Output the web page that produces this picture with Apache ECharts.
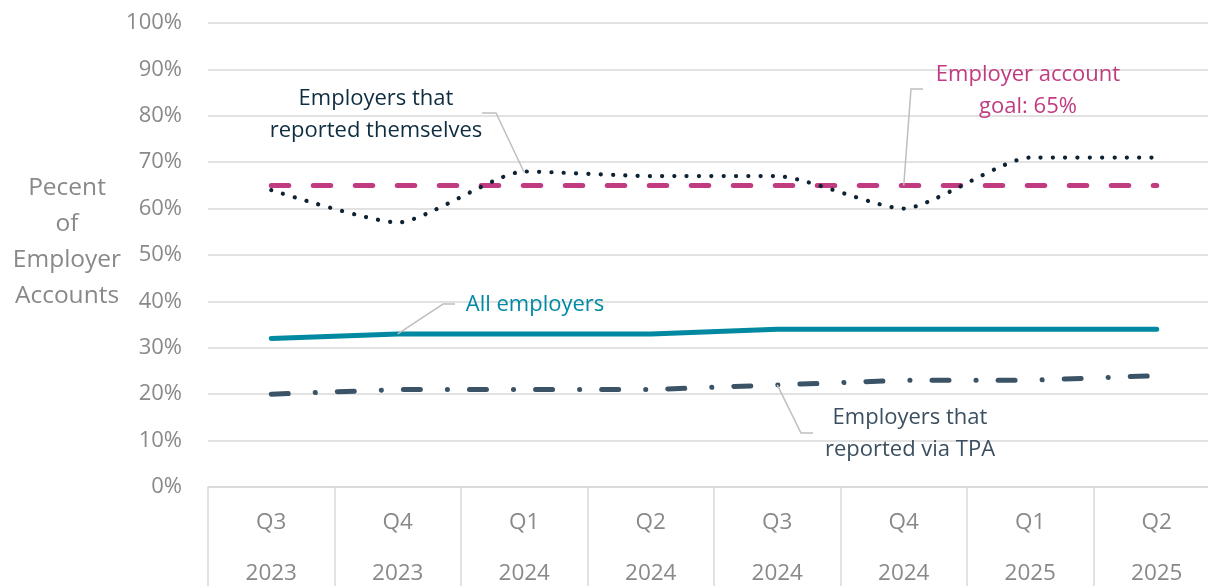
<!DOCTYPE html>
<html>
<head>
<meta charset="utf-8">
<script src="https://cdn.jsdelivr.net/npm/echarts@6/dist/echarts.min.js"></script>
<style>
html,body{margin:0;padding:0;background:#fff;}
#chart{width:1208px;height:586px;}
</style>
</head>
<body>
<div id="chart"></div>
<script>
const categories = ['Q3\n2023','Q4\n2023','Q1\n2024','Q2\n2024','Q3\n2024','Q4\n2024','Q1\n2025','Q2\n2025'];
const selfReported = [64, 57, 68, 67, 67, 60, 71, 71];
const goal = [65, 65, 65, 65, 65, 65, 65, 65];
const allEmployers = [32, 33, 33, 33, 34, 34, 34, 34];
const viaTPA = [20, 21, 21, 21, 22, 23, 23, 24];
const yTicks = [0, 10, 20, 30, 40, 50, 60, 70, 80, 90, 100];

const FONT = '"Open Sans", "Noto Sans", sans-serif';
const GREY = '#898989';
const GRIDC = '#d9d9d9';
const LEAD = '#bfbfbf';

const chart = echarts.init(document.getElementById('chart'), null, {renderer: 'canvas'});

const option = {
  animation: false,
  backgroundColor: '#ffffff',
  textStyle: {fontFamily: FONT},
  grid: {left: 208, right: -12, top: 23, bottom: 99, containLabel: false, outerBoundsMode: 'none'},
  xAxis: {
    type: 'category',
    data: categories,
    boundaryGap: true,
    axisLine: {show: true, lineStyle: {color: GRIDC, width: 1.5}},
    axisTick: {show: true, length: 110, lineStyle: {color: GRIDC, width: 1.5}},
    axisLabel: {
      color: GREY, fontFamily: FONT, fontSize: 22.5, lineHeight: 51, margin: 10,
      interval: 0
    },
    splitLine: {show: false}
  },
  yAxis: {
    type: 'value',
    min: yTicks[0],
    max: yTicks[yTicks.length - 1],
    interval: 10,
    axisLine: {show: false},
    axisTick: {show: false},
    axisLabel: {color: GREY, fontFamily: FONT, fontSize: 22, margin: 26, formatter: '{value}%'},
    splitLine: {show: true, lineStyle: {color: GRIDC, width: 1.5}}
  },
  series: [
    {
      name: 'Employer account goal', type: 'line', data: goal, symbol: 'none',
      lineStyle: {color: '#c13b80', width: 5, type: [17.5, 24.5], cap: 'round'},
      z: 2
    },
    {
      name: 'Employers that reported themselves', type: 'line', data: selfReported, symbol: 'none',
      smooth: 0.2,
      lineStyle: {color: '#0d2233', width: 4.2, type: [0.1, 12.2], cap: 'round'},
      z: 3
    },
    {
      name: 'All employers', type: 'line', data: allEmployers, symbol: 'none',
      lineStyle: {color: '#0089a1', width: 5, cap: 'round'},
      z: 3
    },
    {
      name: 'Employers that reported via TPA', type: 'line', data: viaTPA, symbol: 'none',
      lineStyle: {color: '#3a5366', width: 5, type: [17, 27, 0.1, 22], cap: 'round'},
      z: 3
    }
  ]
};
chart.setOption(option);

function px(i, v) { return chart.convertToPixel({gridIndex: 0}, [i, v]); }

const aSelf = px(2, selfReported[2]);
const aGoal = px(5, goal[5]);
const aAll = px(1, allEmployers[1]);
const aTPA = px(4, viaTPA[4]);

function lead(points) {
  return {type: 'polyline', shape: {points: points}, style: {stroke: LEAD, lineWidth: 1.5, fill: null}, z: 10};
}
function label(text, x, y, color) {
  return {type: 'text', x: x, y: y, z: 11,
    style: {text: text, fill: color, font: '22px ' + FONT, lineHeight: 32, align: 'center', verticalAlign: 'middle'}};
}

chart.setOption({
  graphic: [
    {type: 'text', x: 67, y: 242, z: 11,
      style: {text: 'Pecent\nof\nEmployer\nAccounts', fill: GREY, font: '24.5px ' + FONT, lineHeight: 36, align: 'center', verticalAlign: 'middle'}},
    lead([[482, 113], [496, 113], [aSelf[0], aSelf[1] + 1]]),
    lead([[923, 89], [911, 89], [aGoal[0], aGoal[1]]]),
    lead([[455, 304], [443, 304], [aAll[0], aAll[1]]]),
    lead([[aTPA[0], aTPA[1]], [801, 433], [813, 433]]),
    label('Employers that\nreported themselves', 376, 115, '#0f2d40'),
    label('Employer account\ngoal: 65%', 1028, 91, '#c13b80'),
    label('All employers', 535, 305, '#0089a3'),
    label('Employers that\nreported via TPA', 910, 434, '#3b4f60')
  ]
});
</script>
</body>
</html>
